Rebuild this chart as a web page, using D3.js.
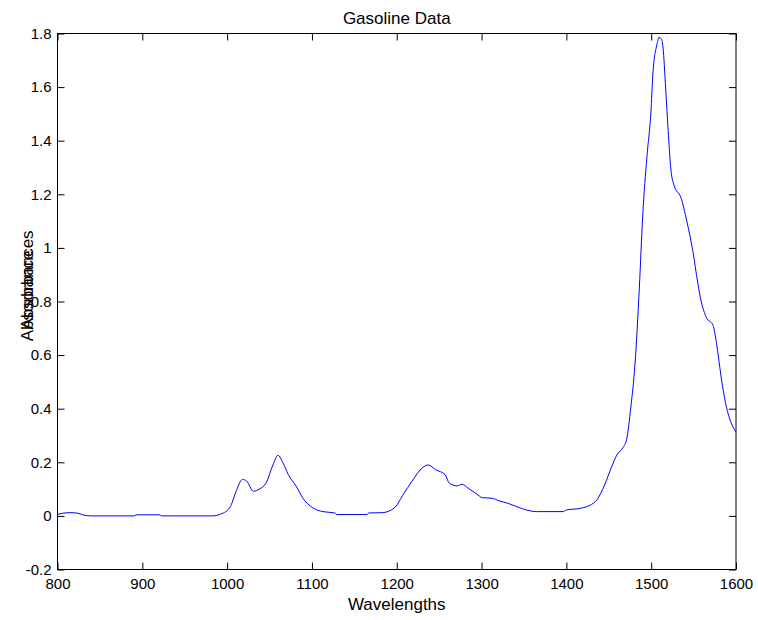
<!DOCTYPE html>
<html>
<head>
<meta charset="utf-8">
<script src="https://cdn.jsdelivr.net/npm/d3@7"></script>
<style>
  html, body { margin: 0; padding: 0; background: #fff; }
  svg text { font-family: "Liberation Sans", Arial, Helvetica, sans-serif; fill: #000; }
</style>
</head>
<body>
<svg id="chart" width="758" height="620"></svg>
<script>
// NIR spectrum of one gasoline sample
const wavelengths = [
  800, 806, 816, 824, 831, 840, 890, 893, 920, 923, 983, 991, 1003, 1011, 1018, 1023,
  1031, 1038, 1046, 1054, 1060, 1066, 1072, 1082, 1089, 1101, 1113, 1127, 1129, 1165,
  1167, 1183, 1198, 1207, 1219, 1229, 1237, 1246, 1257, 1262, 1271, 1277, 1284, 1294,
  1301, 1312, 1321, 1331, 1341, 1353, 1365, 1396, 1400, 1416, 1428, 1436, 1445, 1453,
  1460, 1467, 1471, 1476, 1481, 1486, 1490, 1495, 1500, 1502, 1507, 1509, 1512, 1514,
  1517, 1520, 1523, 1527, 1535, 1542, 1549, 1555, 1559, 1565, 1573, 1577, 1583, 1587,
  1593, 1600
];
const absorbance = [
  0.005, 0.010, 0.012, 0.010, 0.003, 0.000, 0.000, 0.004, 0.004, 0.000, 0.000, 0.005, 0.030, 0.095, 0.136, 0.130,
  0.092, 0.100, 0.123, 0.190, 0.226, 0.197, 0.155, 0.108, 0.068, 0.030, 0.016, 0.011, 0.005, 0.005,
  0.011, 0.012, 0.032, 0.077, 0.134, 0.176, 0.190, 0.172, 0.154, 0.122, 0.112, 0.118, 0.104, 0.082,
  0.068, 0.066, 0.056, 0.047, 0.035, 0.022, 0.016, 0.016, 0.022, 0.028, 0.040, 0.060, 0.115, 0.180,
  0.230, 0.256, 0.285, 0.406, 0.570, 0.850, 1.120, 1.340, 1.524, 1.650, 1.762, 1.785, 1.780, 1.747,
  1.598, 1.438, 1.300, 1.233, 1.188, 1.100, 0.990, 0.868, 0.800, 0.741, 0.711, 0.644, 0.507, 0.432,
  0.358, 0.313
];
const xTicks = [800, 900, 1000, 1100, 1200, 1300, 1400, 1500, 1600];
const yTicks = [-0.2, 0, 0.2, 0.4, 0.6, 0.8, 1, 1.2, 1.4, 1.6, 1.8];
const titleText = "Gasoline Data";
const xLabelText = "Wavelengths";
const yLabelTexts = ["Absorbance", "Absorbances"];

const svg = d3.select("#chart");
const plotLeft = 57.5, plotRight = 736, plotTop = 33.5, plotBottom = 569.5;
const tickLen = 7;
const tickFont = 15, labelFont = 17;

const x = d3.scaleLinear().domain([800, 1600]).range([plotLeft, plotRight]);
const y = d3.scaleLinear().domain([-0.2, 1.8]).range([plotBottom, plotTop]);

const fmt = d => (Math.abs(d) < 1e-9 ? "0" : String(+d.toFixed(1)));

// bottom axis with labels, ticks pointing inward
const gB = svg.append("g").attr("transform", `translate(0,${plotBottom})`)
  .call(d3.axisBottom(x).tickValues(xTicks).tickSizeInner(-tickLen).tickSizeOuter(0).tickPadding(9).tickFormat(d3.format("d")));
// left axis with labels
const gL = svg.append("g").attr("transform", `translate(${plotLeft},0)`)
  .call(d3.axisLeft(y).tickValues(yTicks).tickSizeInner(-tickLen).tickSizeOuter(0).tickPadding(6).tickFormat(fmt));
// top and right axes: ticks only
const gT = svg.append("g").attr("transform", `translate(0,${plotTop})`)
  .call(d3.axisTop(x).tickValues(xTicks).tickSizeInner(-tickLen).tickSizeOuter(0).tickFormat(""));
const gR = svg.append("g").attr("transform", `translate(${plotRight},0)`)
  .call(d3.axisRight(y).tickValues(yTicks).tickSizeInner(-tickLen).tickSizeOuter(0).tickFormat(""));

[gB, gL, gT, gR].forEach(g => {
  g.select(".domain").remove();
  g.selectAll(".tick line").attr("stroke", "#000").attr("stroke-width", 1);
  g.selectAll(".tick text").attr("font-size", tickFont).attr("font-family", null).attr("fill", "#000");
});

// axes box
svg.append("rect")
  .attr("x", plotLeft).attr("y", plotTop)
  .attr("width", plotRight - plotLeft).attr("height", plotBottom - plotTop)
  .attr("fill", "none").attr("stroke", "#000").attr("stroke-width", 1);

// spectrum line
const pts = wavelengths.map((w, i) => [w, absorbance[i]]);
svg.append("path")
  .datum(pts)
  .attr("fill", "none")
  .attr("stroke", "#0000ff")
  .attr("stroke-width", 1)
  .attr("d", d3.line().x(d => x(d[0])).y(d => y(d[1])).curve(d3.curveMonotoneX));

// title and axis labels
svg.append("text")
  .attr("x", (plotLeft + plotRight) / 2).attr("y", 24)
  .attr("text-anchor", "middle").attr("font-size", labelFont)
  .text(titleText);

svg.append("text")
  .attr("x", (plotLeft + plotRight) / 2).attr("y", 610)
  .attr("text-anchor", "middle").attr("font-size", labelFont)
  .text(xLabelText);

// two overlapping y labels
svg.append("text")
  .attr("transform", "translate(33,296) rotate(-90)")
  .attr("text-anchor", "middle").attr("font-size", labelFont)
  .text(yLabelTexts[0]);
svg.append("text")
  .attr("transform", "translate(33,280) rotate(-90)")
  .attr("text-anchor", "middle").attr("font-size", labelFont)
  .text(yLabelTexts[1]);
</script>
</body>
</html>
